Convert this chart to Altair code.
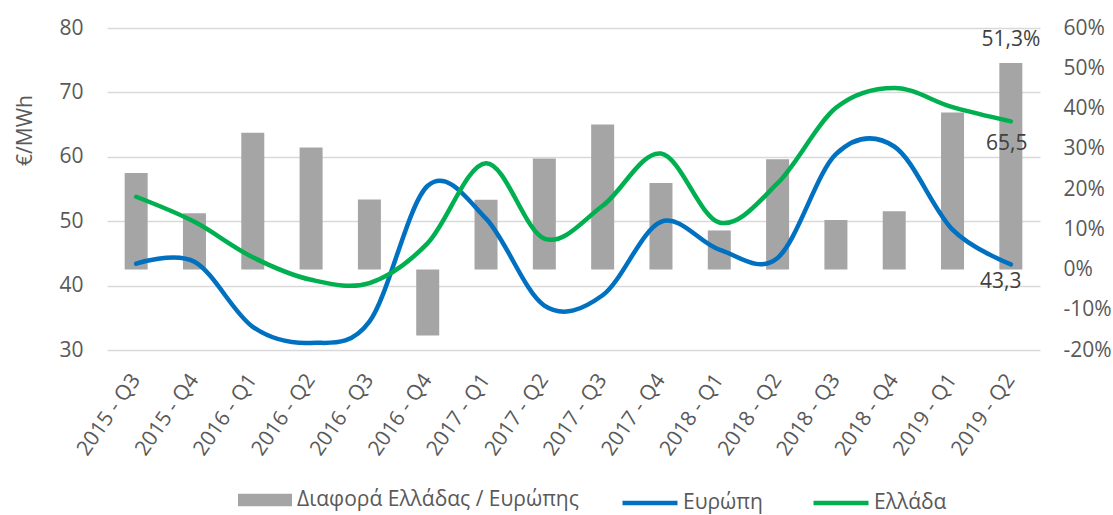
import altair as alt
import pandas as pd

# Quarterly wholesale prices (€/MWh) and Greece-vs-Europe spread
quarters = [
    "2015 - Q3", "2015 - Q4", "2016 - Q1", "2016 - Q2", "2016 - Q3", "2016 - Q4",
    "2017 - Q1", "2017 - Q2", "2017 - Q3", "2017 - Q4", "2018 - Q1", "2018 - Q2",
    "2018 - Q3", "2018 - Q4", "2019 - Q1", "2019 - Q2",
]
europe = [43.4, 43.7, 33.6, 31.1, 34.4, 55.5, 50.4, 36.9,
          38.5, 49.9, 45.6, 44.3, 60.4, 61.6, 48.7, 43.3]
greece = [53.8, 49.9, 44.4, 40.9, 40.4, 46.6, 59.0, 47.3,
          52.4, 60.5, 49.8, 55.9, 67.6, 70.7, 67.7, 65.5]
spread_pct = [24.0, 14.0, 34.0, 30.3, 17.4, -16.4, 17.3, 27.6,
              36.0, 21.5, 9.7, 27.4, 12.3, 14.5, 39.0, 51.3]

SPREAD_NAME = "Διαφορά Ελλάδας / Ευρώπης"
EU_NAME = "Ευρώπη"
GR_NAME = "Ελλάδα"
LAST = quarters[-1]


def comma(v, digits=1):
    return f"{v:.{digits}f}".replace(".", ",")


bars_df = pd.DataFrame({
    "quarter": quarters,
    "spread": [v / 100 for v in spread_pct],
    "series": SPREAD_NAME,
})
bars_df["label"] = [comma(v) + "%" for v in spread_pct]

lines_df = pd.concat([
    pd.DataFrame({"quarter": quarters, "price": europe, "series": EU_NAME,
                  "label": [comma(v) for v in europe]}),
    pd.DataFrame({"quarter": quarters, "price": greece, "series": GR_NAME,
                  "label": [comma(v) for v in greece]}),
], ignore_index=True)

FONT = "Open Sans"
FS = 21
GREY_TEXT = "#595959"
LABEL_TEXT = "#404040"

x_enc = alt.X(
    "quarter:N",
    sort=quarters,
    scale=alt.Scale(paddingInner=0, paddingOuter=0),
    axis=alt.Axis(
        title=None, labelAngle=-55, labelAlign="right", labelBaseline="middle",
        labelPadding=26, labelFontSize=FS, labelColor=GREY_TEXT, labelFont=FONT,
        ticks=False, domain=False, grid=False, labelOverlap=False,
    ),
)

# Spread bars on the right-hand percentage axis
bars = alt.Chart(bars_df).mark_bar(size=23).encode(
    x=x_enc,
    y=alt.Y(
        "spread:Q",
        scale=alt.Scale(domain=[-0.2, 0.6], nice=False, zero=False),
        axis=alt.Axis(
            orient="right", title=None, format=".0%",
            labelExpr="replace(datum.label, '\u2212', '-')",
            values=[-0.2, -0.1, 0, 0.1, 0.2, 0.3, 0.4, 0.5, 0.6],
            grid=False, domain=False, ticks=False, labelPadding=23,
            labelAlign="left", labelFontSize=FS, labelColor=GREY_TEXT, labelFont=FONT,
        ),
    ),
    color=alt.Color(
        "series:N",
        scale=alt.Scale(domain=[SPREAD_NAME], range=["#A5A5A5"]),
        legend=alt.Legend(
            title=None, orient="none", legendX=131, legendY=445,
            symbolType="M-1,-0.235H1V0.235H-1Z", symbolSize=2916, symbolStrokeWidth=0,
            labelFontSize=FS, labelColor=GREY_TEXT, labelFont=FONT, labelOffset=5,
            labelLimit=0, padding=0,
        ),
    ),
)

bar_label = alt.Chart(bars_df).transform_filter(
    alt.datum.quarter == LAST
).mark_text(
    baseline="bottom", dy=-13, fontSize=FS, font=FONT, color=LABEL_TEXT
).encode(x=x_enc, y=alt.Y("spread:Q"), text="label:N")

right_layer = alt.layer(bars, bar_label)

# Price lines on the left-hand €/MWh axis
lines = alt.Chart(lines_df).mark_line(
    interpolate="cardinal", strokeWidth=4.5, strokeCap="round"
).encode(
    x=x_enc,
    y=alt.Y(
        "price:Q",
        scale=alt.Scale(domain=[30, 80], nice=False, zero=False),
        axis=alt.Axis(
            orient="left", title="€/MWh", values=[30, 40, 50, 60, 70, 80],
            grid=True, gridColor="#D9D9D9", gridWidth=1.5,
            domain=False, ticks=False, labelPadding=24,
            labelFontSize=FS, labelColor=GREY_TEXT, labelFont=FONT,
            titleFontSize=FS, titleFont=FONT, titleColor=GREY_TEXT,
            titleFontWeight="normal", titleX=-82, titleY=102,
            titleAlign="center", titleBaseline="middle", titleAngle=270,
        ),
    ),
    color=alt.Color(
        "series:N",
        sort=[EU_NAME, GR_NAME],
        scale=alt.Scale(domain=[EU_NAME, GR_NAME], range=["#0070C0", "#00B050"]),
        legend=alt.Legend(
            title=None, orient="none", legendX=513, legendY=445,
            direction="horizontal", symbolType="stroke", symbolSize=3025,
            symbolStrokeWidth=4.3, labelFontSize=FS, labelColor=GREY_TEXT,
            labelFont=FONT, labelOffset=3, columnPadding=41, padding=0,
        ),
    ),
)

gr_label = alt.Chart(lines_df).transform_filter(
    (alt.datum.quarter == LAST) & (alt.datum.series == GR_NAME)
).mark_text(
    baseline="middle", dy=23, dx=-4, fontSize=FS, font=FONT, color=LABEL_TEXT
).encode(x=x_enc, y=alt.Y("price:Q"), text="label:N")

eu_label = alt.Chart(lines_df).transform_filter(
    (alt.datum.quarter == LAST) & (alt.datum.series == EU_NAME)
).mark_text(
    baseline="middle", dy=18, dx=-10, fontSize=FS, font=FONT, color=LABEL_TEXT
).encode(x=x_enc, y=alt.Y("price:Q"), text="label:N")

left_layer = alt.layer(lines, gr_label, eu_label)

chart = alt.layer(right_layer, left_layer).resolve_scale(
    y="independent", color="independent"
).properties(
    width=933,
    height=322,
    padding={"left": 107, "top": 28, "right": 73, "bottom": 165},
    autosize=alt.AutoSizeParams(type="none"),
    background="white",
).configure_view(stroke=None)

chart.save("out.html", embed_options={"renderer": "svg", "actions": False})
